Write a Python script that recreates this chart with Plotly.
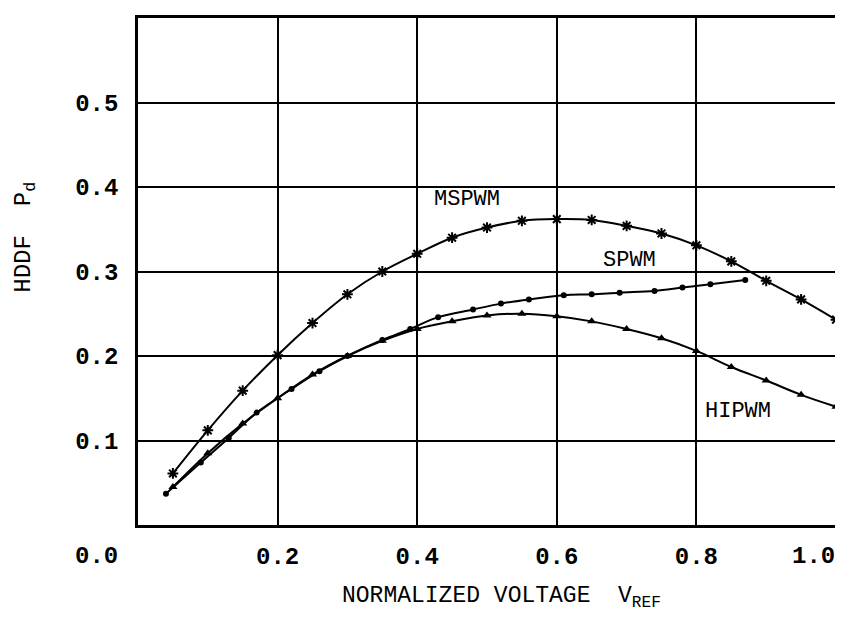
import plotly.graph_objects as go

# ------------------------------------------------------------
# Data
# ------------------------------------------------------------

mspwm_x = [0.05, 0.10, 0.15, 0.20, 0.25, 0.30, 0.35, 0.40, 0.45, 0.50,
           0.55, 0.60, 0.65, 0.70, 0.75, 0.80, 0.85, 0.90, 0.95, 1.00]
mspwm_y = [0.061, 0.112, 0.159, 0.201, 0.239, 0.273, 0.300, 0.321, 0.340, 0.352,
           0.360, 0.362, 0.361, 0.354, 0.345, 0.331, 0.312, 0.289, 0.267, 0.243]

spwm_x = [0.04, 0.09, 0.13, 0.17, 0.22, 0.26, 0.30, 0.35, 0.39, 0.43,
          0.48, 0.52, 0.56, 0.61, 0.65, 0.69, 0.74, 0.78, 0.82, 0.87]
spwm_y = [0.037, 0.074, 0.103, 0.133, 0.161, 0.182, 0.200, 0.219, 0.232, 0.246,
          0.255, 0.262, 0.267, 0.272, 0.273, 0.275, 0.277, 0.281, 0.285, 0.290]

hipwm_x = [0.05, 0.10, 0.15, 0.20, 0.25, 0.30, 0.35, 0.40, 0.45, 0.50,
           0.55, 0.60, 0.65, 0.70, 0.75, 0.80, 0.85, 0.90, 0.95, 1.00]
hipwm_y = [0.045, 0.085, 0.120, 0.150, 0.178, 0.200, 0.218, 0.232, 0.241, 0.248,
           0.250, 0.247, 0.241, 0.232, 0.221, 0.206, 0.187, 0.171, 0.154, 0.140]

x_ticks = [0.2, 0.4, 0.6, 0.8]
x_tick_text = ["0.2", "0.4", "0.6", "0.8"]
y_ticks = [0.1, 0.2, 0.3, 0.4, 0.5]
y_tick_text = ["0.1", "0.2", "0.3", "0.4", "0.5"]

FONT = "Liberation Mono"

# plot box on screen (page has an 8px body margin)
L, T, W, H = 138, 15, 698, 510


def px_to_paper(px, py):
    return (px - L) / W, (T + H - py) / H


def label(fig, txt, cx, cy, size, bold=False, angle=0, xanchor="center"):
    x, y = px_to_paper(cx, cy)
    fig.add_annotation(
        xref="paper", yref="paper", x=x, y=y, text=txt,
        xanchor=xanchor, yanchor="middle", textangle=angle,
        showarrow=False,
        font=dict(family=FONT, size=size, color="black",
                  weight="bold" if bold else "normal")
    )


# ------------------------------------------------------------
# Figure
# ------------------------------------------------------------

fig = go.Figure()

fig.add_trace(go.Scatter(
    x=mspwm_x, y=mspwm_y, mode="lines+markers", name="MSPWM",
    line=dict(color="black", width=2, shape="spline"),
    marker=dict(symbol="asterisk-open", size=9, color="black",
                line=dict(color="black", width=2))
))

fig.add_trace(go.Scatter(
    x=spwm_x, y=spwm_y, mode="lines+markers", name="SPWM",
    line=dict(color="black", width=2, shape="spline"),
    marker=dict(symbol="circle", size=6, color="black")
))

fig.add_trace(go.Scatter(
    x=hipwm_x, y=hipwm_y, mode="lines+markers", name="HIPWM",
    line=dict(color="black", width=2, shape="spline"),
    marker=dict(symbol="triangle-up", size=8, color="black")
))

# curve labels
label(fig, "MSPWM", 467, 198, 22)
label(fig, "SPWM", 629, 259, 22)
label(fig, "HIPWM", 738, 411, 22)

# corner labels 0.0 and 1.0
label(fig, "0.0", 96, 557, 24, bold=True)
label(fig, "1.0", 813, 557, 24, bold=True)

# axis titles
label(fig, "NORMALIZED VOLTAGE  V<sub>REF</sub>", 340, 598, 23, xanchor="left")
label(fig, "HDDF  P<sub>d</sub>", 25, 236, 24, angle=-90)

fig.update_xaxes(
    range=[0, 1.0], tickvals=x_ticks, ticktext=x_tick_text,
    showline=True, mirror=True, linecolor="black", linewidth=2.5,
    showgrid=True, gridcolor="black", gridwidth=1.8, zeroline=False,
    ticks="", tickfont=dict(family=FONT, size=24, color="black", weight="bold"),
    ticklabelstandoff=7
)

fig.update_yaxes(
    range=[0, 0.6], tickvals=y_ticks, ticktext=y_tick_text,
    showline=True, mirror=True, linecolor="black", linewidth=2.5,
    showgrid=True, gridcolor="black", gridwidth=1.8, zeroline=False,
    ticks="", tickfont=dict(family=FONT, size=24, color="black", weight="bold"),
    ticklabelstandoff=12
)

# margins offset by the 8px page margin so the box lands at L, T
fig.update_layout(
    width=843, height=618,
    margin=dict(l=L - 8, r=843 + 8 - (L + W), t=T - 8, b=618 + 8 - (T + H)),
    paper_bgcolor="white", plot_bgcolor="white",
    showlegend=False
)

fig.write_html("out.html")
